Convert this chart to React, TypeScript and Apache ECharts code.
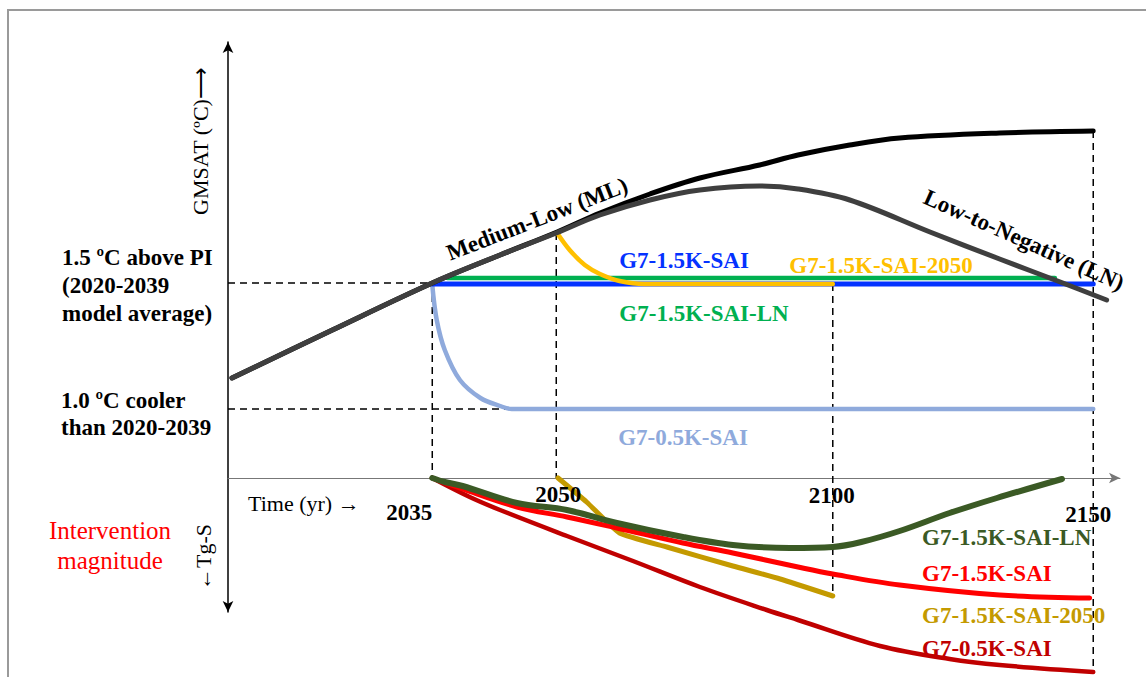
import { useEffect, useRef } from "react";
import * as echarts from "echarts";

const SERIF = "Liberation Serif";

// Schematic axes: time in schematic units (0..100), GMSAT / intervention in schematic units
const T2035 = 22.9;
const T2050 = 36.8;
const T2100 = 67.8;
const T2150 = 97.0;
const yearLabels = ["2035", "2050", "2100", "2150"];
const yearPos = [T2035, T2050, T2100, T2150];

const level15 = 19.5; // 1.5 ºC above PI
const level10 = 6.9; // 1.0 ºC cooler than 2020-2039

// Medium-Low (ML) GMSAT pathway
const mlX = [0.45, 11.7, 22.9, 30.5, 36.9, 41.7, 47.3, 52.9, 59.6, 63.9, 69.7, 75.3, 86.5, 97.0];
const mlY = [10.0, 14.8, 19.5, 22.3, 24.6, 26.5, 28.4, 30.0, 31.3, 32.3, 33.3, 34.0, 34.5, 34.7];
// Low-to-Negative (LN) GMSAT pathway
const lnX = [0.45, 11.7, 22.9, 30.5, 36.8, 41.7, 47.3, 52.9, 59.6, 63.9, 69.7, 78.7, 86.5, 93.3, 98.5];
const lnY = [10.0, 14.8, 19.5, 22.3, 24.5, 26.3, 27.8, 28.8, 29.2, 28.9, 27.8, 24.6, 21.9, 19.6, 17.8];
// G7-1.5K-SAI (blue)
const sai15X = [22.9, 97.0];
const sai15Y = [19.4, 19.4];
// G7-1.5K-SAI-LN (green)
const sai15lnX = [24.6, 92.7];
const sai15lnY = [20.0, 20.0];
// G7-1.5K-SAI-2050 (yellow)
const sai2050X = [36.9, 38.3, 40.0, 41.7, 43.9, 46.7, 67.8];
const sai2050Y = [24.5, 22.8, 21.3, 20.4, 19.7, 19.4, 19.4];
// G7-0.5K-SAI (light blue)
const sai05X = [22.9, 23.4, 24.3, 26.0, 28.3, 30.5, 31.8, 97.0];
const sai05Y = [19.3, 15.8, 12.8, 9.8, 8.0, 7.2, 6.9, 6.9];

// Intervention magnitude (Tg-S, downward)
const injLnX = [22.9, 24.3, 26.3, 32.4, 38.0, 43.6, 51.0, 56.6, 63.0, 67.8, 71.0, 75.3, 80.9, 86.2, 93.5];
const injLnY = [0, -0.4, -0.8, -2.5, -3.2, -4.5, -5.9, -6.7, -7.0, -6.9, -6.4, -5.3, -3.5, -2.0, -0.1];
const inj15X = [22.9, 26.3, 32.4, 38.0, 43.6, 51.0, 56.6, 63.9, 67.8, 75.3, 86.5, 96.6];
const inj15Y = [0, -1.1, -2.9, -3.9, -5.0, -6.5, -7.5, -8.9, -9.6, -10.7, -11.7, -12.0];
const inj2050X = [37.0, 40.2, 43.9, 49.2, 56.6, 61.9, 67.8];
const inj2050Y = [0, -2.4, -5.5, -6.9, -8.8, -10.1, -11.8];
const inj05X = [22.9, 27.1, 30.5, 38.0, 45.4, 52.9, 60.4, 63.9, 73.1, 80.9, 86.5, 97.0];
const inj05Y = [0, -1.9, -3.2, -5.8, -8.3, -10.9, -13.2, -14.2, -16.8, -18.1, -18.7, -19.4];

const zip = (xs: number[], ys: number[]) => xs.map((x, i) => [x, ys[i]]);
const last = (a: number[]) => a[a.length - 1];

export default function App() {
  const ref = useRef<HTMLDivElement>(null);
  useEffect(() => {
    if (!ref.current) return;
    const chart = echarts.init(ref.current, null, { renderer: "svg" });

    const dashed = [
      [[0, level15], [T2035, level15]],
      [[T2035, level15], [T2035, 0]],
      [[0, level10], [sai05X[6], level10]],
      [[T2050, sai2050Y[0]], [T2050, 0]],
      [[T2100, last(sai2050Y)], [T2100, last(inj2050Y)]],
      [[T2150, last(mlY)], [T2150, last(inj05Y)]],
    ];

    const line = (data: number[][], color: string, width: number, z: number, smooth = 0.35) => ({
      type: "line",
      data,
      smooth,
      showSymbol: false,
      symbol: "none",
      clip: false,
      z,
      lineStyle: { color, width, cap: "round", join: "round" },
      silent: true,
    });

    const series: any[] = [];
    dashed.forEach((d) =>
      series.push({
        type: "line",
        data: d,
        showSymbol: false,
        symbol: "none",
        clip: false,
        z: 1,
        silent: true,
        lineStyle: { color: "#000", width: 1.5, type: [7, 5] },
      })
    );
    series.push(line(zip(sai05X, sai05Y), "#8faadc", 4.5, 2));
    series.push(line(zip(sai15lnX, sai15lnY), "#00b050", 4.5, 3));
    series.push(line(zip(sai15X, sai15Y), "#0432ff", 5, 3));
    series.push(line(zip(sai2050X, sai2050Y), "#ffc000", 4.5, 4));
    series.push(line(zip(mlX, mlY), "#000000", 5, 5));
    series.push(line(zip(lnX, lnY), "#3f3f3f", 5, 6));
    series.push(line(zip(inj2050X, inj2050Y), "#c49a00", 5, 3, 0.15));
    series.push(line(zip(inj05X, inj05Y), "#c00000", 4.5, 3));
    series.push(line(zip(inj15X, inj15Y), "#ff0000", 5, 4));
    series.push(line(zip(injLnX, injLnY), "#3b5a25", 6, 4));

    chart.setOption({
      animation: false,
      grid: { left: 228, right: 26, top: 42, bottom: 65 },
      xAxis: {
        type: "value",
        min: 0,
        max: 100,
        axisLine: {
          show: true,
          onZero: true,
          symbol: ["none", "arrow"],
          symbolSize: [8, 11],
          lineStyle: { color: "#777", width: 1 },
        },
        axisTick: { show: false },
        axisLabel: { show: false },
        splitLine: { show: false },
      },
      yAxis: {
        type: "value",
        min: -13.4,
        max: 43.6,
        axisLine: {
          show: true,
          onZero: false,
          symbol: ["arrow", "arrow"],
          symbolSize: [8, 11],
          lineStyle: { color: "#000", width: 1.5 },
        },
        axisTick: { show: false },
        axisLabel: { show: false },
        splitLine: { show: false },
      },
      series,
    });

    const px = (x: number, y: number) => chart.convertToPixel({ gridIndex: 0 }, [x, y]) as number[];
    const axisY = px(0, 0)[1];
    const yearDx = [-23, 2, -1, -5];
    const yearDy = [34, 16, 17, 36];

    const txt = (
      text: string,
      x: number,
      y: number,
      opts: { size?: number; bold?: boolean; color?: string; align?: string; rot?: number; lh?: number } = {}
    ) => ({
      type: "text",
      x,
      y,
      rotation: opts.rot || 0,
      z: 100,
      silent: true,
      style: {
        text,
        x: 0,
        y: 0,
        fontFamily: SERIF,
        fontSize: opts.size || 23,
        fontWeight: opts.bold ? "bold" : "normal",
        fill: opts.color || "#000",
        align: opts.align || "center",
        verticalAlign: "middle",
        lineHeight: opts.lh || Math.round((opts.size || 23) * 1.2),
      },
    });

    const graphic: any[] = [
      {
        type: "rect",
        shape: { x: 8, y: 10, width: 1300, height: 800 },
        style: { fill: "none", stroke: "#9a9a9a", lineWidth: 2 },
        silent: true,
        z: 0,
      },
      txt("GMSAT (ºC)⟶", 200, 141, { size: 22, rot: Math.PI / 2 }),
      txt("1.5 ºC above PI\n(2020-2039\nmodel average)", 62, 285, { bold: true, align: "left", lh: 28 }),
      txt("1.0 ºC cooler\nthan 2020-2039", 61, 414, { bold: true, align: "left", lh: 27 }),
      txt("Intervention\nmagnitude", 110, 545, { size: 25, color: "#ff0000", lh: 30 }),
      txt("←Tg-S", 203, 557, { size: 22, rot: Math.PI / 2 }),
      txt("Time (yr) →", 248, 503, { size: 22, align: "left" }),
      txt("Medium-Low (ML)", 537, 219, { bold: true, rot: 0.37 }),
      txt("Low-to-Negative (LN)", 1024, 240, { bold: true, rot: -0.42 }),
      txt("G7-1.5K-SAI", 684, 260, { bold: true, color: "#0432ff" }),
      txt("G7-1.5K-SAI-2050", 881, 265, { bold: true, color: "#ffc000" }),
      txt("G7-1.5K-SAI-LN", 704, 313, { bold: true, color: "#00b050" }),
      txt("G7-0.5K-SAI", 683, 437, { bold: true, color: "#8faadc" }),
      txt("G7-1.5K-SAI-LN", 922, 537, { bold: true, color: "#3b5a25", align: "left" }),
      txt("G7-1.5K-SAI", 922, 573, { bold: true, color: "#ff0000", align: "left" }),
      txt("G7-1.5K-SAI-2050", 922, 615, { bold: true, color: "#c49a00", align: "left" }),
      txt("G7-0.5K-SAI", 922, 648, { bold: true, color: "#c00000", align: "left" }),
    ];
    yearLabels.forEach((lab, i) => {
      const p = px(yearPos[i], 0);
      graphic.push(txt(lab, p[0] + yearDx[i], axisY + yearDy[i], { bold: true }));
    });

    chart.setOption({ graphic });

    return () => chart.dispose();
  }, []);

  return (
    <div
      ref={ref}
      style={{ position: "absolute", left: 0, top: 0, width: 1146, height: 677, background: "#fff", overflow: "hidden" }}
    />
  );
}
